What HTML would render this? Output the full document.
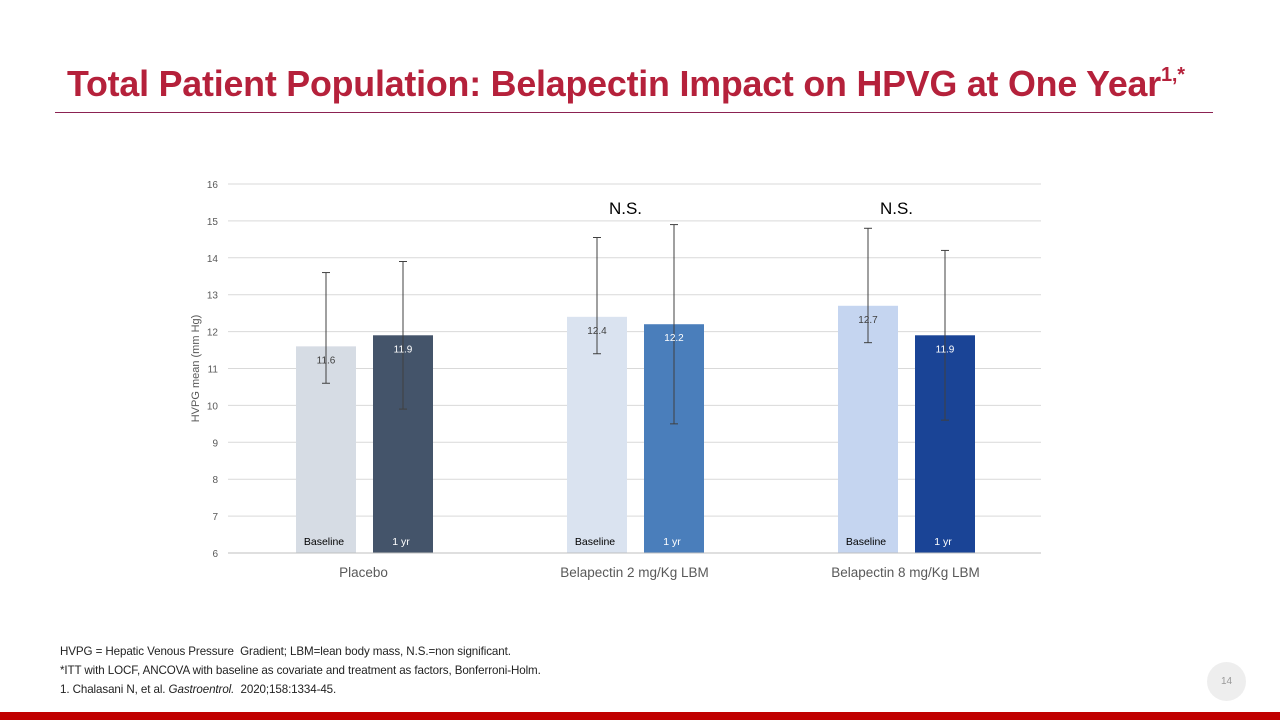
<!DOCTYPE html>
<html><head><meta charset="utf-8"><style>
body{margin:0;width:1280px;height:720px;background:#fff;position:relative;overflow:hidden;font-family:"Liberation Sans",sans-serif}
#title{position:absolute;left:67px;top:64px;font-size:35.8px;font-weight:bold;color:#b5213b;white-space:nowrap;letter-spacing:-0.2px}
#title sup{font-size:20px;position:relative;top:-2px}
#rule{position:absolute;left:55px;top:112px;width:1158px;height:1px;background:#8b2252}
#foot{position:absolute;left:60px;top:642px;font-size:11.6px;color:#222;line-height:19px;letter-spacing:-0.1px}
#bottom{position:absolute;left:0;top:712px;width:1280px;height:8px;background:#c00000}
#pg{position:absolute;left:1207px;top:662px;width:39px;height:39px;border-radius:50%;background:#eee;color:#999;font-size:10px;text-align:center;line-height:39px}
svg{position:absolute;left:0;top:0}
</style></head><body>
<div id="title">Total Patient Population: Belapectin Impact on HPVG at One Year<sup>1,*</sup></div>
<div id="rule"></div>
<svg id="chart" width="1280" height="720"></svg>
<div id="foot">HVPG = Hepatic Venous Pressure&nbsp; Gradient; LBM=lean body mass, N.S.=non significant.<br>*ITT with LOCF, ANCOVA with baseline as covariate and treatment as factors, Bonferroni-Holm.<br>1. Chalasani N, et al. <i>Gastroentrol.</i>&nbsp; 2020;158:1334-45.</div>
<div id="pg">14</div>
<div id="bottom"></div>
<script>
const categories=["Placebo","Belapectin 2 mg/Kg LBM","Belapectin 8 mg/Kg LBM"];
const baseline=[11.6,12.4,12.7];
const oneYear=[11.9,12.2,11.9];
const baseLow=[10.6,11.4,11.7];
const baseHigh=[13.6,14.55,14.8];
const yrLow=[9.9,9.5,9.6];
const yrHigh=[13.9,14.9,14.2];
const sig=["","N.S.","N.S."];
const yTicks=[6,7,8,9,10,11,12,13,14,15,16];
const baseColors=["#d6dce4","#dae3f0","#c5d5f0"];
const yrColors=["#44546a","#4a7ebb","#1a4496"];
const NS="http://www.w3.org/2000/svg";
const svg=document.getElementById('chart');
const x0=228,x1=1041,yT=184,yB=553,ymin=6,ymax=16;
const Y=v=>yB-(v-ymin)/(ymax-ymin)*(yB-yT);
const cw=(x1-x0)/categories.length;
const X=i=>x0+cw*(i+0.5);
function mk(t,a,txt){const e=document.createElementNS(NS,t);for(const k in a)e.setAttribute(k,a[k]);if(txt!=null)e.textContent=txt;svg.appendChild(e);return e;}
yTicks.forEach(v=>{
 const g=mk('line',{x1:x0,x2:x1,y1:Y(v),y2:Y(v),stroke:'#d9d9d9','stroke-width':1});
 
 
 const t=mk('text',{x:218,y:Y(v)+4,'font-size':10,fill:'#595959','text-anchor':'end'},v);
 
 
});
const yt=mk('text',{x:0,y:0,'font-size':11,fill:'#595959','text-anchor':'middle',transform:`translate(199,${(yT+yB)/2}) rotate(-90)`},'HVPG mean (mm Hg)');


function eb(cx,lo,hi){
 [[cx,Y(lo),cx,Y(hi)],[cx-4,Y(lo),cx+4,Y(lo)],[cx-4,Y(hi),cx+4,Y(hi)]].forEach(c=>{
  const l=mk('line',{x1:c[0],y1:c[1],x2:c[2],y2:c[3],stroke:'#404040','stroke-width':1});
  
  
 });
}
categories.forEach((c,i)=>{
 const cx=X(i),bw=60;
 const bx=cx-67.5,yx=cx+9.5;
 const b=mk('rect',{x:bx,y:Y(baseline[i]),width:bw,height:yB-Y(baseline[i]),fill:baseColors[i]});
 
 
 const r=mk('rect',{x:yx,y:Y(oneYear[i]),width:bw,height:yB-Y(oneYear[i]),fill:yrColors[i]});
 
 
 eb(bx+bw/2,baseLow[i],baseHigh[i]);
 eb(yx+bw/2,yrLow[i],yrHigh[i]);
 const v1=mk('text',{x:bx+bw/2,y:Y(baseline[i])+17,'font-size':10,fill:'#404040','text-anchor':'middle'},baseline[i].toFixed(1));
 
 
 const v2=mk('text',{x:yx+bw/2,y:Y(oneYear[i])+17,'font-size':10,fill:'#fff','text-anchor':'middle'},oneYear[i].toFixed(1));
 
 
 const l1=mk('text',{x:bx+bw/2-2,y:545,'font-size':10.5,fill:'#000','text-anchor':'middle'},'Baseline');
 
 
 const l2=mk('text',{x:yx+bw/2-2,y:545,'font-size':10.5,fill:'#fff','text-anchor':'middle'},'1 yr');
 
 
 const cl=mk('text',{x:cx,y:577,'font-size':13.5,fill:'#595959','text-anchor':'middle'},c);
 
 
 if(sig[i]){const s=mk('text',{x:cx-9,y:214,'font-size':17,fill:'#000','text-anchor':'middle'},sig[i]);
 
 }
});
const ax=mk('line',{x1:x0,x2:x1,y1:yB,y2:yB,stroke:'#bfbfbf','stroke-width':1});


</script>
</body></html>
